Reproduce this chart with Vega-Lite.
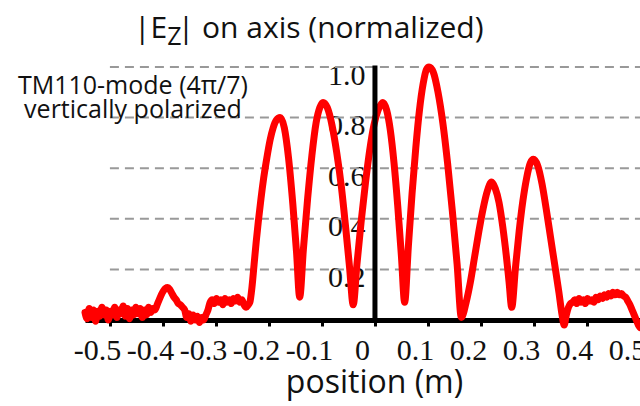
{
  "$schema": "https://vega.github.io/schema/vega-lite/v6.json",
  "width": 555,
  "height": 253,
  "autosize": {"type": "none"},
  "padding": {"left": 85, "top": 67, "right": 0, "bottom": 86},
  "background": "white",
  "config": {"view": {"stroke": null}},
  "resolve": {"axis": {"x": "independent", "y": "independent"}},
  "layer": [
    {
      "data": {"values": [{"g": 0.2}, {"g": 0.4}, {"g": 0.6}, {"g": 0.8}, {"g": 1.0}]},
      "mark": {"type": "rule", "color": "#999999", "strokeWidth": 2, "strokeDash": [9, 6]},
      "encoding": {
        "x": {"datum": -0.5, "type": "quantitative", "scale": {"domain": [-0.547, 0.5], "nice": false, "zero": false}, "axis": null},
        "x2": {"datum": 0.5},
        "y": {"field": "g", "type": "quantitative", "scale": {"domain": [0, 1], "nice": false, "zero": false}, "axis": null}
      }
    },
    {
      "data": {"values": [
        {"position": -0.547, "Ez": 0.03}, {"position": -0.543, "Ez": 0.005}, {"position": -0.539, "Ez": 0.045}, {"position": -0.535, "Ez": 0.01},
        {"position": -0.531, "Ez": 0.04}, {"position": -0.527, "Ez": -0.005}, {"position": -0.523, "Ez": 0.035}, {"position": -0.519, "Ez": 0.015},
        {"position": -0.515, "Ez": 0.05}, {"position": -0.511, "Ez": 0.02}, {"position": -0.507, "Ez": 0.04}, {"position": -0.503, "Ez": 0.0},
        {"position": -0.499, "Ez": 0.035}, {"position": -0.495, "Ez": 0.02}, {"position": -0.491, "Ez": 0.05}, {"position": -0.487, "Ez": 0.01},
        {"position": -0.483, "Ez": 0.04}, {"position": -0.479, "Ez": 0.025}, {"position": -0.475, "Ez": 0.055}, {"position": -0.471, "Ez": 0.015},
        {"position": -0.467, "Ez": 0.045}, {"position": -0.463, "Ez": 0.005}, {"position": -0.459, "Ez": 0.04}, {"position": -0.455, "Ez": 0.02},
        {"position": -0.451, "Ez": 0.05}, {"position": -0.447, "Ez": 0.025}, {"position": -0.443, "Ez": 0.045}, {"position": -0.439, "Ez": 0.01},
        {"position": -0.435, "Ez": 0.04}, {"position": -0.431, "Ez": 0.02}, {"position": -0.427, "Ez": 0.05}, {"position": -0.423, "Ez": 0.03},
        {"position": -0.419, "Ez": 0.045}, {"position": -0.415, "Ez": 0.04}, {"position": -0.411, "Ez": 0.06}, {"position": -0.407, "Ez": 0.08},
        {"position": -0.403, "Ez": 0.1}, {"position": -0.399, "Ez": 0.115}, {"position": -0.395, "Ez": 0.125}, {"position": -0.391, "Ez": 0.128},
        {"position": -0.387, "Ez": 0.12}, {"position": -0.383, "Ez": 0.105}, {"position": -0.379, "Ez": 0.09}, {"position": -0.375, "Ez": 0.08},
        {"position": -0.371, "Ez": 0.065}, {"position": -0.367, "Ez": 0.06}, {"position": -0.363, "Ez": 0.05}, {"position": -0.359, "Ez": 0.04},
        {"position": -0.355, "Ez": 0.01}, {"position": -0.351, "Ez": 0.025}, {"position": -0.347, "Ez": -0.005}, {"position": -0.343, "Ez": 0.02},
        {"position": -0.339, "Ez": 0.0}, {"position": -0.335, "Ez": 0.015}, {"position": -0.331, "Ez": -0.01}, {"position": -0.327, "Ez": 0.01},
        {"position": -0.323, "Ez": 0.0}, {"position": -0.319, "Ez": 0.02}, {"position": -0.315, "Ez": 0.04}, {"position": -0.311, "Ez": 0.07},
        {"position": -0.307, "Ez": 0.08}, {"position": -0.303, "Ez": 0.065}, {"position": -0.299, "Ez": 0.085}, {"position": -0.295, "Ez": 0.07},
        {"position": -0.291, "Ez": 0.08}, {"position": -0.287, "Ez": 0.06}, {"position": -0.283, "Ez": 0.085}, {"position": -0.279, "Ez": 0.07},
        {"position": -0.275, "Ez": 0.08}, {"position": -0.271, "Ez": 0.065}, {"position": -0.267, "Ez": 0.085}, {"position": -0.263, "Ez": 0.075},
        {"position": -0.259, "Ez": 0.09}, {"position": -0.255, "Ez": 0.07}, {"position": -0.251, "Ez": 0.08}, {"position": -0.247, "Ez": 0.06},
        {"position": -0.243, "Ez": 0.05}, {"position": -0.239, "Ez": 0.06}, {"position": -0.236, "Ez": 0.07},
        {"position": -0.232, "Ez": 0.13}, {"position": -0.228, "Ez": 0.22}, {"position": -0.224, "Ez": 0.31}, {"position": -0.22, "Ez": 0.39},
        {"position": -0.215, "Ez": 0.48}, {"position": -0.21, "Ez": 0.56}, {"position": -0.204, "Ez": 0.64}, {"position": -0.198, "Ez": 0.71},
        {"position": -0.192, "Ez": 0.76}, {"position": -0.186, "Ez": 0.79}, {"position": -0.179, "Ez": 0.8},
        {"position": -0.171, "Ez": 0.76}, {"position": -0.163, "Ez": 0.64}, {"position": -0.155, "Ez": 0.46}, {"position": -0.148, "Ez": 0.27},
        {"position": -0.142, "Ez": 0.09},
        {"position": -0.135, "Ez": 0.28}, {"position": -0.127, "Ez": 0.48}, {"position": -0.119, "Ez": 0.65}, {"position": -0.111, "Ez": 0.78},
        {"position": -0.104, "Ez": 0.84}, {"position": -0.098, "Ez": 0.86}, {"position": -0.09, "Ez": 0.84}, {"position": -0.081, "Ez": 0.77},
        {"position": -0.072, "Ez": 0.66}, {"position": -0.063, "Ez": 0.52}, {"position": -0.055, "Ez": 0.36}, {"position": -0.048, "Ez": 0.21},
        {"position": -0.041, "Ez": 0.06},
        {"position": -0.034, "Ez": 0.22}, {"position": -0.026, "Ez": 0.39}, {"position": -0.018, "Ez": 0.54}, {"position": -0.01, "Ez": 0.67},
        {"position": -0.002, "Ez": 0.77}, {"position": 0.006, "Ez": 0.83}, {"position": 0.015, "Ez": 0.86}, {"position": 0.022, "Ez": 0.83},
        {"position": 0.029, "Ez": 0.75}, {"position": 0.036, "Ez": 0.62}, {"position": 0.043, "Ez": 0.45}, {"position": 0.05, "Ez": 0.25},
        {"position": 0.056, "Ez": 0.07},
        {"position": 0.063, "Ez": 0.29}, {"position": 0.07, "Ez": 0.5}, {"position": 0.077, "Ez": 0.68}, {"position": 0.084, "Ez": 0.83},
        {"position": 0.091, "Ez": 0.935}, {"position": 0.097, "Ez": 0.99}, {"position": 0.102, "Ez": 1.0}, {"position": 0.11, "Ez": 0.98},
        {"position": 0.119, "Ez": 0.9}, {"position": 0.128, "Ez": 0.78}, {"position": 0.137, "Ez": 0.62}, {"position": 0.146, "Ez": 0.43},
        {"position": 0.155, "Ez": 0.22}, {"position": 0.163, "Ez": 0.01},
        {"position": 0.172, "Ez": 0.07}, {"position": 0.18, "Ez": 0.15}, {"position": 0.188, "Ez": 0.25}, {"position": 0.196, "Ez": 0.35},
        {"position": 0.204, "Ez": 0.44}, {"position": 0.212, "Ez": 0.51}, {"position": 0.22, "Ez": 0.545}, {"position": 0.227, "Ez": 0.52},
        {"position": 0.234, "Ez": 0.465}, {"position": 0.241, "Ez": 0.37}, {"position": 0.248, "Ez": 0.25}, {"position": 0.253, "Ez": 0.15},
        {"position": 0.258, "Ez": 0.05},
        {"position": 0.265, "Ez": 0.205}, {"position": 0.272, "Ez": 0.35}, {"position": 0.279, "Ez": 0.47}, {"position": 0.286, "Ez": 0.56},
        {"position": 0.293, "Ez": 0.62}, {"position": 0.299, "Ez": 0.635}, {"position": 0.307, "Ez": 0.61}, {"position": 0.315, "Ez": 0.54},
        {"position": 0.323, "Ez": 0.44}, {"position": 0.331, "Ez": 0.33}, {"position": 0.339, "Ez": 0.22}, {"position": 0.347, "Ez": 0.11},
        {"position": 0.353, "Ez": 0.02}, {"position": 0.357, "Ez": -0.02},
        {"position": 0.361, "Ez": 0.02}, {"position": 0.365, "Ez": 0.05}, {"position": 0.369, "Ez": 0.065}, {"position": 0.373, "Ez": 0.07},
        {"position": 0.377, "Ez": 0.08}, {"position": 0.381, "Ez": 0.065}, {"position": 0.385, "Ez": 0.085}, {"position": 0.389, "Ez": 0.07},
        {"position": 0.393, "Ez": 0.08}, {"position": 0.397, "Ez": 0.065}, {"position": 0.401, "Ez": 0.085}, {"position": 0.405, "Ez": 0.075},
        {"position": 0.409, "Ez": 0.08}, {"position": 0.413, "Ez": 0.07}, {"position": 0.417, "Ez": 0.09}, {"position": 0.421, "Ez": 0.08},
        {"position": 0.425, "Ez": 0.095}, {"position": 0.429, "Ez": 0.085}, {"position": 0.433, "Ez": 0.1}, {"position": 0.437, "Ez": 0.09},
        {"position": 0.441, "Ez": 0.105}, {"position": 0.445, "Ez": 0.095}, {"position": 0.449, "Ez": 0.11}, {"position": 0.453, "Ez": 0.1},
        {"position": 0.457, "Ez": 0.11}, {"position": 0.461, "Ez": 0.1}, {"position": 0.465, "Ez": 0.105}, {"position": 0.469, "Ez": 0.095},
        {"position": 0.473, "Ez": 0.09}, {"position": 0.477, "Ez": 0.075}, {"position": 0.481, "Ez": 0.06}, {"position": 0.485, "Ez": 0.04},
        {"position": 0.489, "Ez": 0.02}, {"position": 0.493, "Ez": 0.0}, {"position": 0.497, "Ez": -0.02}, {"position": 0.5, "Ez": -0.03}
      ]},
      "mark": {"type": "line", "color": "#ff0000", "strokeWidth": 7, "interpolate": "monotone", "strokeJoin": "round", "strokeCap": "round"},
      "encoding": {
        "x": {
          "field": "position", "type": "quantitative",
          "scale": {"domain": [-0.547, 0.5], "nice": false, "zero": false},
          "axis": {
            "title": "position (m)",
            "values": [-0.5, -0.4, -0.3, -0.2, -0.1, 0, 0.1, 0.2, 0.3, 0.4, 0.5],
            "labelExpr": "datum.value == 0 ? '0' : (datum.value < 0 ? '-' + format(-datum.value, '.1f') : format(datum.value, '.1f'))",
            "grid": false,
            "domainColor": "#000000", "domainWidth": 5,
            "tickColor": "#000000", "tickWidth": 3, "tickSize": 6,
            "labelFont": "Liberation Serif", "labelFontSize": 30, "labelColor": "#111111",
            "labelBaseline": "alphabetic", "labelPadding": 33, "labelOffset": -13,
            "labelOverlap": false, "labelBound": false, "labelFlush": false,
            "titleFont": "Open Sans", "titleFontSize": 32, "titleFontWeight": "normal", "titleColor": "#111111",
            "titleX": 289, "titleY": 72, "titleBaseline": "alphabetic"
          }
        },
        "y": {
          "field": "Ez", "type": "quantitative",
          "scale": {"domain": [0, 1], "nice": false, "zero": false},
          "axis": {
            "title": null, "orient": "left", "offset": -290,
            "values": [0.2, 0.4, 0.6, 0.8, 1.0], "format": ".1f",
            "domain": false, "ticks": false, "tickSize": 0, "grid": false,
            "labelFont": "Liberation Serif", "labelFontSize": 30, "labelColor": "#111111",
            "labelPadding": 10, "labelOffset": 8,
            "labelOverlap": false, "labelBound": false, "labelFlush": false
          }
        }
      }
    },
    {
      "data": {"values": [{}]},
      "mark": {"type": "rule", "color": "#000000", "strokeWidth": 5},
      "encoding": {
        "x": {"datum": 0, "type": "quantitative", "scale": {"domain": [-0.547, 0.5], "nice": false, "zero": false}, "axis": null},
        "y": {"datum": 0, "type": "quantitative", "scale": {"domain": [0, 1], "nice": false, "zero": false}, "axis": null},
        "y2": {"datum": 1.006}
      }
    },
    {
      "data": {"values": [{}]},
      "mark": {"type": "text", "font": "Open Sans", "fontSize": 30, "align": "right", "baseline": "alphabetic", "color": "#111111"},
      "encoding": {
        "x": {"datum": -0.392, "type": "quantitative", "axis": null},
        "y": {"datum": 1.1146, "type": "quantitative", "axis": null},
        "text": {"value": "|E"}
      }
    },
    {
      "data": {"values": [{}]},
      "mark": {"type": "text", "font": "Open Sans", "fontSize": 25, "align": "left", "baseline": "alphabetic", "color": "#111111"},
      "encoding": {
        "x": {"datum": -0.392, "type": "quantitative", "axis": null},
        "y": {"datum": 1.087, "type": "quantitative", "axis": null},
        "text": {"value": "Z"}
      }
    },
    {
      "data": {"values": [{}]},
      "mark": {"type": "text", "font": "Open Sans", "fontSize": 30, "align": "left", "baseline": "alphabetic", "color": "#111111"},
      "encoding": {
        "x": {"datum": -0.372, "type": "quantitative", "axis": null},
        "y": {"datum": 1.1146, "type": "quantitative", "axis": null},
        "text": {"value": "| on axis (normalized)"}
      }
    },
    {
      "data": {"values": [{}]},
      "mark": {"type": "text", "font": "Open Sans", "fontSize": 25, "align": "center", "baseline": "alphabetic", "color": "#111111"},
      "encoding": {
        "x": {"datum": -0.4566, "type": "quantitative", "axis": null},
        "y": {"datum": 0.893, "type": "quantitative", "axis": null},
        "text": {"value": "TM110-mode (4π/7)"}
      }
    },
    {
      "data": {"values": [{}]},
      "mark": {"type": "text", "font": "Open Sans", "fontSize": 25, "align": "center", "baseline": "alphabetic", "color": "#111111"},
      "encoding": {
        "x": {"datum": -0.4566, "type": "quantitative", "axis": null},
        "y": {"datum": 0.798, "type": "quantitative", "axis": null},
        "text": {"value": "vertically polarized"}
      }
    }
  ]
}
